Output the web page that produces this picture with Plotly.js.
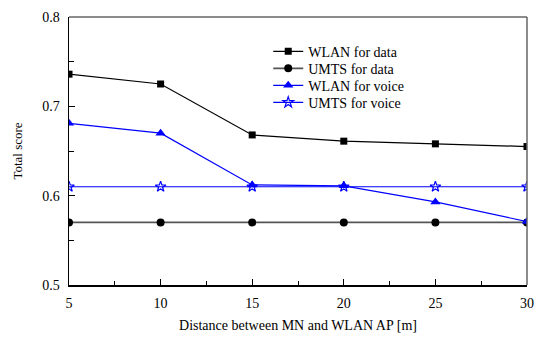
<!DOCTYPE html>
<html><head><meta charset="utf-8">
<script src="https://cdn.plot.ly/plotly-3.0.1.min.js"></script>
<style>html,body{margin:0;padding:0;background:#fff;}#chart{width:540px;height:337px;}</style>
</head><body><div id="chart"></div>
<script>
const distance = [5, 10, 15, 20, 25, 30];
const wlanData = [0.736, 0.725, 0.668, 0.661, 0.658, 0.655];
const umtsData = [0.570, 0.570, 0.570, 0.570, 0.570, 0.570];
const wlanVoice = [0.681, 0.670, 0.612, 0.611, 0.593, 0.571];
const umtsVoice = [0.610, 0.610, 0.610, 0.610, 0.610, 0.610];
const seriesNames = ["WLAN for data", "UMTS for data", "WLAN for voice", "UMTS for voice"];

const fam = "'Times New Roman', 'Liberation Serif', Times, serif";
const font = {family: fam, size: 14, color: "#000"};

const traces = [
  {x: distance, y: wlanData, name: seriesNames[0], mode: "lines+markers",
   line: {color: "#000", width: 1.2}, marker: {symbol: "square", size: 7, color: "#000"}},
  {x: distance, y: umtsData, name: seriesNames[1], mode: "lines+markers",
   line: {color: "#555", width: 1.8}, marker: {symbol: "circle", size: 8, color: "#000"}},
  {x: distance, y: wlanVoice, name: seriesNames[2], mode: "lines+markers",
   line: {color: "#0000ff", width: 1.2}, marker: {symbol: "triangle-up", size: 9, color: "#0000ff"}},
  {x: distance, y: umtsVoice, name: seriesNames[3], mode: "lines+markers",
   line: {color: "#0000ff", width: 1.2}, marker: {symbol: "star-open", size: 8, color: "#0000ff", line: {width: 1.2}}}
];

const layout = {
  width: 540, height: 337,
  margin: {l: 69, r: 13, t: 17, b: 52},
  paper_bgcolor: "#fff", plot_bgcolor: "#fff",
  font: font,
  showlegend: true,
  legend: {x: 0.435, y: 0.93, xanchor: "left", yanchor: "top", bgcolor: "rgba(0,0,0,0)",
           font: {family: fam, size: 14, color: "#000"}, tracegroupgap: 0, itemwidth: 30},
  xaxis: {
    range: [5, 30], tickmode: "array", tickvals: distance, ticktext: distance.map(String),
    ticks: "inside", ticklen: 6, tickcolor: "#000", showline: true, linecolor: "#000", linewidth: 1.5,
    showgrid: false, zeroline: false, ticklabelstandoff: 5,
    minor: {ticks: "inside", ticklen: 4, tickcolor: "#000", dtick: 2.5, showgrid: false},
    title: {text: "Distance between MN and WLAN AP [m]", font: {family: fam, size: 14}, standoff: 10},
    tickfont: {family: fam, size: 14}
  },
  yaxis: {
    range: [0.5, 0.8], tickmode: "array", tickvals: [0.5, 0.6, 0.7, 0.8], ticktext: ["0.5", "0.6", "0.7", "0.8"],
    ticks: "inside", ticklen: 6, tickcolor: "#000", showline: true, linecolor: "#000", linewidth: 1.5,
    showgrid: false, zeroline: false, ticklabelstandoff: 5,
    minor: {ticks: "inside", ticklen: 5, tickcolor: "#000", dtick: 0.05, showgrid: false},
    title: {text: "Total score", font: {family: fam, size: 13}, standoff: 16},
    tickfont: {family: fam, size: 14}
  },
  shapes: [
    {type: "line", xref: "paper", yref: "paper", x0: 0, x1: 1, y0: 1, y1: 1, line: {color: "#666", width: 1.5}},
    {type: "line", xref: "paper", yref: "paper", x0: 1, x1: 1, y0: 0, y1: 1, line: {color: "#666", width: 1.5}}
  ]
};

Plotly.newPlot("chart", traces, layout, {displayModeBar: false, staticPlot: true}).then(function (gd) {
  // tighten legend row spacing to match the reference
  const items = gd.querySelectorAll(".legend .traces");
  if (!items.length) return;
  const m = /translate\(([-\d.]+),\s*([-\d.]+)\)/.exec(items[0].getAttribute("transform") || "");
  if (!m) return;
  const x0 = parseFloat(m[1]), y0 = parseFloat(m[2]);
  items.forEach(function (el, i) {
    el.setAttribute("transform", "translate(" + x0 + "," + (y0 + i * 17) + ")");
  });
});
</script>
</body></html>
